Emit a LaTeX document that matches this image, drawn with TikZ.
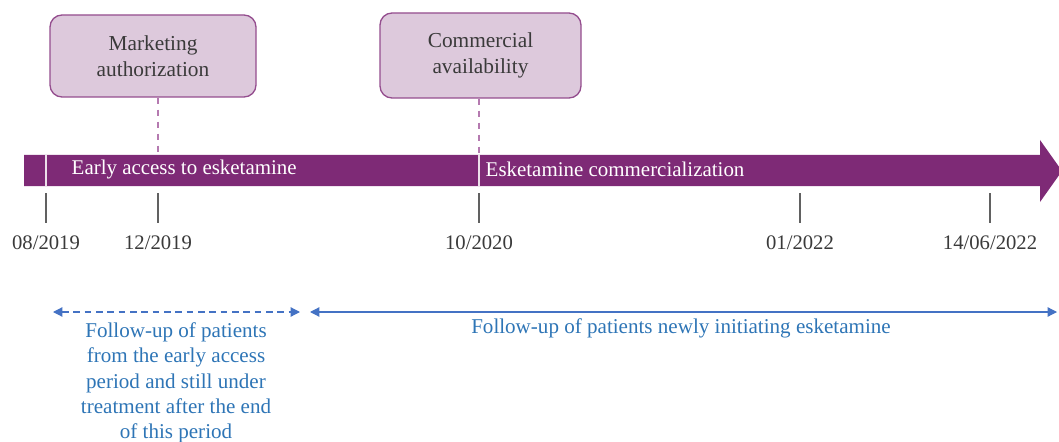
\documentclass[tikz,border=0pt]{standalone}
\usepackage{fontspec}
\setmainfont{Liberation Serif}
\usetikzlibrary{arrows.meta}
\definecolor{barpurple}{HTML}{7E2A76}
\definecolor{boxfill}{HTML}{DDC9DC}
\definecolor{boxline}{HTML}{944D8E}
\definecolor{dashpurple}{HTML}{B57AB0}
\definecolor{arrblue}{HTML}{4472C4}
\definecolor{txtblue}{HTML}{2E75B6}
\definecolor{ticktxt}{HTML}{3A3A3A}
\begin{document}
\begin{tikzpicture}[x=0.75pt,y=-0.75pt,
  evbox/.style={draw=boxline,line width=1pt,fill=boxfill,rounded corners=9pt,inner sep=0pt,align=center,font=\fontsize{16}{19.5}\selectfont,text=ticktxt},
  tickline/.style={draw=ticktxt!80,line width=0.9pt},
  ticklabel/.style={font=\fontsize{15.5}{18}\selectfont,text=ticktxt,anchor=center},
  bartext/.style={font=\fontsize{15.7}{18}\selectfont,text=white,anchor=west},
  sep/.style={draw=white!85!barpurple,line width=1.2pt},
  conn/.style={draw=dashpurple,line width=1pt,dash pattern=on 5pt off 4pt},
  bluearr/.style={draw=arrblue,line width=0.9pt,{Triangle[length=7pt,width=7pt]}-{Triangle[length=7pt,width=7pt]}},
  bluetxt/.style={font=\fontsize{15.8}{19}\selectfont,text=txtblue,align=center}]
\useasboundingbox (0,0) rectangle (1059,442);
% main bar with arrow head
\fill[barpurple] (24,155) -- (1040,155) -- (1040,140) -- (1062,171) -- (1040,202) -- (1040,186) -- (24,186) -- cycle;
% separators
\coordinate (s1t) at (46,155); \coordinate (s1b) at (46,186);
\coordinate (s2t) at (479,155); \coordinate (s2b) at (479,186);
\draw[sep] (s1t) -- (s1b);
\draw[sep] (s2t) -- (s2b);
% bar texts
\node[bartext] (ea) at (67,169) {Early access to esketamine};
\node[bartext] (ec) at (481,169) {Esketamine commercialization};
% boxes
\node[evbox,minimum width=154.5pt,minimum height=61.5pt] (ma) at (153,56) {Marketing\\authorization};
\node[evbox,minimum width=150.75pt,minimum height=63.75pt] (ca) at (480.5,55.5) {Commercial\\availability};
% dashed connectors
\coordinate (mbar) at (158,155);
\coordinate (cbar) at (479,155);
\draw[conn] (ma.south -| mbar) -- (mbar);
\draw[conn] (ca.south -| cbar) -- (cbar);
% ticks
\foreach \x/\lab/\nm in {46/08\slash 2019/t1,158/12\slash 2019/t2,479/10\slash 2020/t3,800/01\slash 2022/t4,990/14\slash 06\slash 2022/t5}{
  \coordinate (\nm a) at (\x,193);
  \coordinate (\nm b) at (\x,223);
  \draw[tickline] (\nm a) -- (\nm b);
  \node[ticklabel] (\nm l) at (\x,243) {\lab};
}
% follow-up arrows
\coordinate (fa1) at (53,312); \coordinate (fa2) at (300,312);
\coordinate (fb1) at (310,312); \coordinate (fb2) at (1057,312);
\draw[bluearr,dash pattern=on 5pt off 3.5pt] (fa1) -- (fa2);
\draw[bluearr] (fb1) -- (fb2);
\node[bluetxt] (ft2) at (681,328) {Follow-up of patients newly initiating esketamine};
\node[bluetxt,anchor=north] (ft1) at (176,318) {Follow-up of patients\\from the early access\\period and still under\\treatment after the end\\of this period};
\end{tikzpicture}
\end{document}
